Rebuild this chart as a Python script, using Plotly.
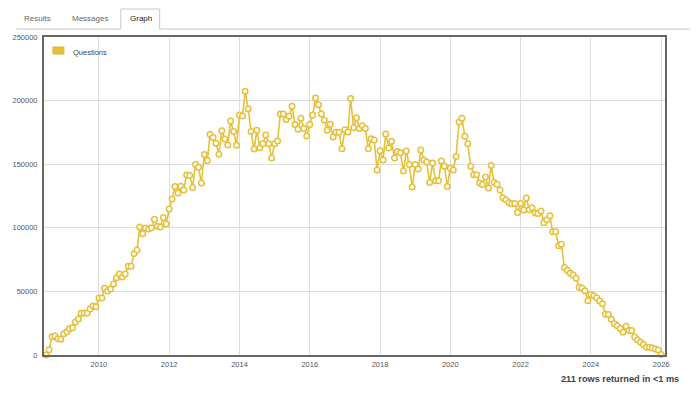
import pandas as pd
import plotly.graph_objects as go

# ---- data ----
start_month = "2008-07-01"
questions = [
    0, 4200, 14400, 14900, 12800, 12300,
    16800, 18300, 20700, 21500, 25900, 28300, 32800, 33000, 33000, 36200, 38500, 38000,
    44800, 44800, 52400, 50300, 51900, 55800, 60800, 63700, 61300, 63700, 69700, 69700,
    79700, 82600, 100600, 95400, 99900, 99100, 100100, 106700, 101200, 100600, 108000, 103000,
    114800, 122700, 132400, 127400, 132600, 129700, 141500, 141200, 131700, 150000, 147600, 135200,
    157700, 152900, 173500, 170900, 166400, 157900, 176200, 169800, 165100, 183900, 175700, 164800,
    188600, 187800, 207400, 193600, 175700, 161900, 176700, 163000, 166100, 173000, 166100, 154800,
    166100, 168200, 189400, 189400, 185200, 187600, 195500, 181200, 177500, 186200, 178000, 172200,
    181200, 188600, 202100, 196800, 189400, 184700, 176700, 181500, 171400, 175100, 175100, 162200,
    177000, 175400, 201600, 178600, 186500, 178000, 180200, 178000, 162200, 170100, 169000, 145500,
    160600, 153400, 173800, 162700, 168000, 154800, 160000, 159000, 144700, 160300, 149700, 132000,
    149700, 146300, 161100, 153400, 151800, 135700, 151000, 137000, 137000, 152600, 148400, 132500,
    146800, 145500, 156100, 183100, 186200, 172000, 166100, 148400, 141800, 141800, 135200, 134100,
    139900, 131200, 148900, 135700, 134300, 129700, 123700, 121900, 119800, 119000, 119200, 112100,
    119200, 114000, 123400, 114200, 115800, 111600, 111300, 113200, 104000, 106300, 109500, 96900,
    96900, 85800, 87100, 68700, 66600, 64200, 62900, 60300, 53200, 52600, 50500, 42600,
    47600, 46600, 45000, 42400, 40300, 32100, 31800, 28200, 24500, 22900, 20800, 17900,
    22600, 19200, 19200, 14200, 11800, 10000, 8200, 6100, 6100, 5500, 4700, 3900,
    300,
]
months = pd.date_range(start_month, periods=len(questions), freq="MS")
series_name = "Questions"
y_ticks = [0, 50000, 100000, 150000, 200000, 250000]
x_tick_years = ["2010", "2012", "2014", "2016", "2018", "2020", "2022", "2024", "2026"]
tab_labels = ["Results", "Messages", "Graph"]
footer_text = "211 rows returned in <1 ms"

# ---- figure geometry ----
W, H = 699, 397
L, R, T, B = 42, 665, 37, 355
YELLOW = "#e5c03a"


def px(x):
    return (x - L) / (R - L)


def py(y):
    return (B - y) / (B - T)


fig = go.Figure()
fig.add_trace(go.Scatter(
    x=months, y=questions, name=series_name, mode="lines+markers",
    line=dict(color=YELLOW, width=1.6),
    marker=dict(symbol="circle", size=5.5, color="white",
                line=dict(color=YELLOW, width=1.5)),
    showlegend=False, cliponaxis=False,
))

font_family = "Liberation Sans, Arial, sans-serif"

fig.update_layout(
    width=W, height=H,
    margin=dict(l=L, r=W - R, t=T, b=H - B, pad=0),
    paper_bgcolor="white", plot_bgcolor="white",
    font=dict(family=font_family, size=8, color="#555"),
    xaxis=dict(
        type="date",
        range=["2008-06-09", "2026-02-10"],
        tickvals=[f"{y}-01-01" for y in x_tick_years],
        ticktext=x_tick_years,
        showgrid=True, gridcolor="#dedede", gridwidth=1,
        showline=True, linecolor="#666", linewidth=2, mirror=True,
        ticks="", tickfont=dict(size=7.5, color="#555"),
        zeroline=False, ticklabelstandoff=1,
    ),
    yaxis=dict(
        range=[0, 250000],
        tickvals=y_ticks,
        ticktext=[str(v) for v in y_ticks],
        showgrid=True, gridcolor="#dedede", gridwidth=1,
        showline=True, linecolor="#666", linewidth=2, mirror=True,
        ticks="", tickfont=dict(size=7.5, color="#555"),
        zeroline=False, ticklabelstandoff=3,
    ),
)

shapes = []
annotations = []

# legend swatch + label
shapes.append(dict(type="rect", xref="paper", yref="paper",
                   x0=px(51), x1=px(62), y0=py(54), y1=py(47),
                   fillcolor=YELLOW, line=dict(color="#d9b62f", width=1)))
annotations.append(dict(x=px(69), y=py(52), xref="paper", yref="paper",
                        text=series_name, showarrow=False, xanchor="left", yanchor="middle",
                        font=dict(size=7.5, color="#444")))

# tabs
shapes.append(dict(type="line", xref="paper", yref="paper",
                   x0=px(14), x1=px(119), y0=py(29), y1=py(29),
                   line=dict(color="#c8c8c8", width=1)))
shapes.append(dict(type="line", xref="paper", yref="paper",
                   x0=px(158), x1=px(690), y0=py(29), y1=py(29),
                   line=dict(color="#c8c8c8", width=1)))
shapes.append(dict(type="path", xref="paper", yref="paper",
                   path=f"M {px(119)},{py(29)} L {px(119)},{py(9)} L {px(158)},{py(9)} L {px(158)},{py(29)}",
                   line=dict(color="#c8c8c8", width=1)))
tab_x = [35, 88, 139]
tab_colors = ["#666", "#666", "#222"]
for lbl, xc, c in zip(tab_labels, tab_x, tab_colors):
    annotations.append(dict(x=px(xc), y=py(18.5), xref="paper", yref="paper",
                            text=lbl, showarrow=False, xanchor="center", yanchor="middle",
                            font=dict(size=8, color=c)))

# footer
annotations.append(dict(x=px(681), y=py(379), xref="paper", yref="paper",
                        text=f"<b>{footer_text}</b>", showarrow=False,
                        xanchor="right", yanchor="middle",
                        font=dict(size=9.2, color="#444")))

fig.update_layout(shapes=shapes, annotations=annotations)

fig.write_html("out.html", config={"displayModeBar": False},
               post_script="document.body.style.margin='0px';document.body.style.padding='0px';")
